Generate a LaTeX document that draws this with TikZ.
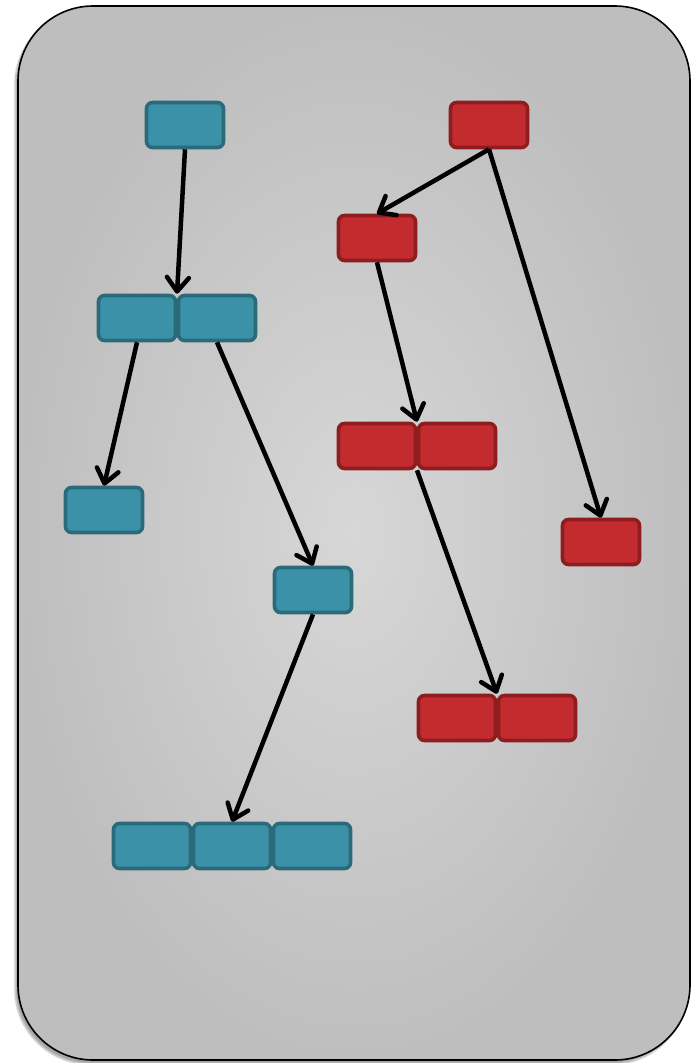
\documentclass[tikz,border=0pt]{standalone}
\usetikzlibrary{arrows.meta,shadows.blur,calc}
\definecolor{bgin}{RGB}{215,215,215}
\definecolor{bgout}{RGB}{190,190,190}
\definecolor{tealfill}{RGB}{59,146,168}
\definecolor{tealline}{RGB}{42,106,123}
\definecolor{redfill}{RGB}{196,43,46}
\definecolor{redline}{RGB}{143,29,31}
\tikzset{
  cell/.style={rectangle, rounded corners=6pt, line width=3.6pt,
    minimum width=77pt, minimum height=45pt, inner sep=0pt},
  tealcell/.style={cell, fill=tealfill, draw=tealline},
  redcell/.style={cell, fill=redfill, draw=redline},
  link/.style={line width=4.5pt, black,
    -{Straight Barb[length=14pt,width=22pt,line width=4.5pt,round]}}
}
\begin{document}
\begin{tikzpicture}[x=1pt,y=-1pt]
\useasboundingbox (0,0) rectangle (696,1063);
% panel
\path[draw=black, line width=1.6pt, rounded corners=75pt,
  shading=radial, inner color=bgin, outer color=bgout,
  blur shadow={shadow xshift=-3pt, shadow yshift=-4pt, shadow blur steps=8, shadow opacity=35}]
  (18,6) rectangle (690,1060);

% teal tree
\node[tealcell] (t1) at (185,125) {};
\node[tealcell] (t2a) at (137,318) {};
\node[tealcell] (t2b) at (217,318) {};
\node[tealcell] (t3) at (104,510) {};
\node[tealcell] (t4) at (313,590) {};
\node[tealcell] (t5a) at (152,846) {};
\node[tealcell] (t5b) at (232,846) {};
\node[tealcell] (t5c) at (312,846) {};

% red tree
\node[redcell] (r1) at (489,125) {};
\node[redcell] (r2) at (377,238) {};
\node[redcell] (r3a) at (377,446) {};
\node[redcell] (r3b) at (457,446) {};
\node[redcell] (r4) at (601,542) {};
\node[redcell] (r5a) at (457,718) {};
\node[redcell] (r5b) at (537,718) {};

\coordinate (t2j) at ($(t2a.north)!0.5!(t2b.north)$);
\coordinate (r3j) at ($(r3a.north)!0.5!(r3b.north)$);
\coordinate (r3k) at ($(r3a.south)!0.5!(r3b.south)$);
\coordinate (r5j) at ($(r5a.north)!0.5!(r5b.north)$);

\draw[link] (t1.south) -- (t2j);
\draw[link] (t2a.south) -- (t3.north);
\draw[link] (t2b.south) -- (t4.north);
\draw[link] (t4.south) -- (t5b.north);

\draw[link] (r1.south) -- (r2.north);
\draw[link] (r1.south) -- (r4.north);
\draw[link] (r2.south) -- (r3j);
\draw[link] (r3k) -- (r5j);
\end{tikzpicture}
\end{document}
